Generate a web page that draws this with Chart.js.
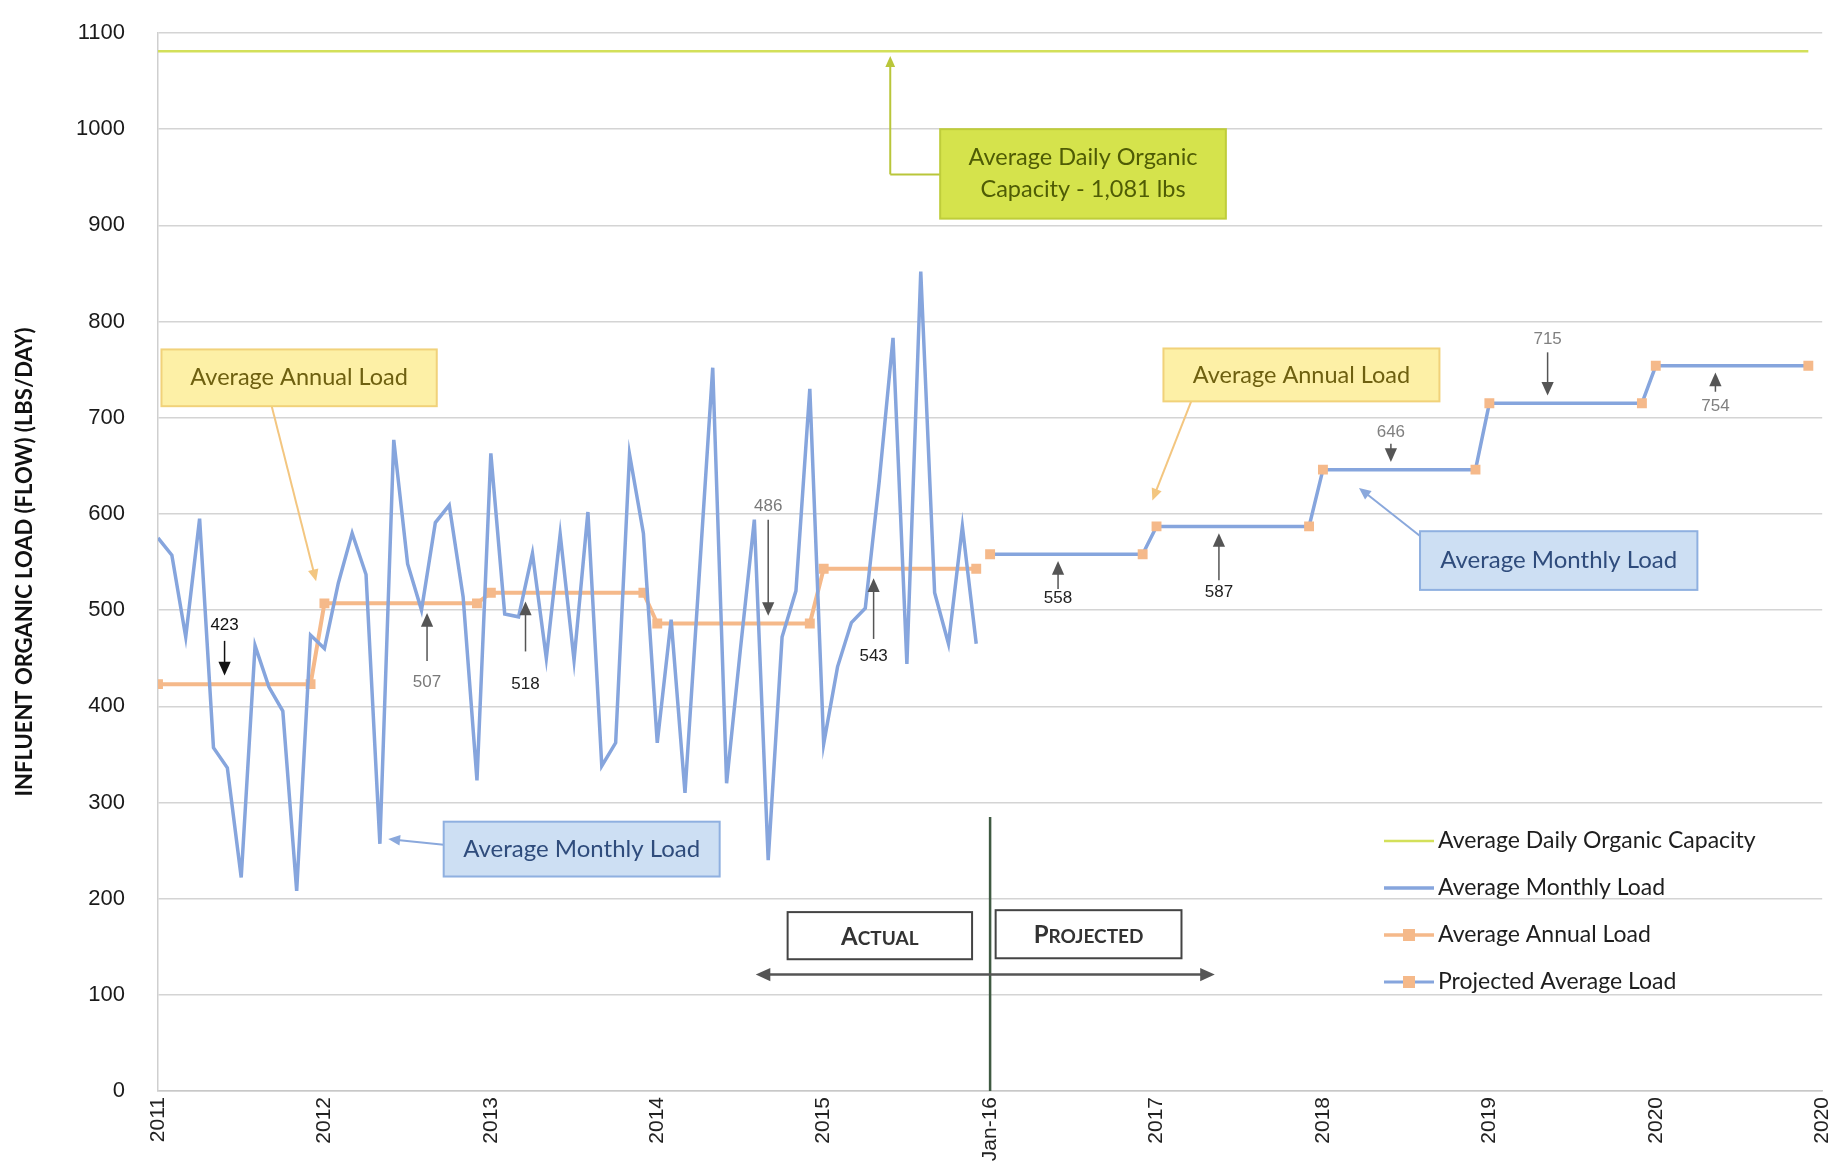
<!DOCTYPE html>
<html>
<head>
<meta charset="utf-8">
<script src="https://cdn.jsdelivr.net/npm/chart.js@4.4.0/dist/chart.umd.min.js"></script>
<style>
    html, body { margin: 0; padding: 0; background: #fff; }
</style>
</head>
<body>
<canvas id="loadChart" width="1839" height="1161"></canvas>
<script>

// x axis runs in months, Jan 2011 = 0
const yearTicks = ['2011', '2012', '2013', '2014', '2015', 'Jan-16', '2017', '2018', '2019', '2020', '2020']

// actual average monthly load, Jan 2011 .. Dec 2015
const monthlyLoad = [
    575, 557, 472, 595, 357, 336, 222, 463, 420, 395, 208, 474,
    460, 528, 580, 537, 257, 677, 548, 500, 591, 609, 514, 323,
    663, 496, 493, 559, 450, 579, 448, 602, 338, 362, 662, 580,
    362, 490, 310, 530, 752, 320, 460, 594, 240, 472, 520, 730,
    361, 441, 487, 502, 633, 783, 444, 852, 518, 465, 587, 465
]
const annualYears = [2011, 2012, 2013, 2014, 2015]
const annualLoad = [423, 507, 518, 486, 543]
const projectedYears = [2016, 2017, 2018, 2019, 2020]
const projectedLoad = [558, 587, 646, 715, 754]
const capacityMonths = [0, 119]
const capacityLoad = [1081, 1081]

const blue = '#86a5dd'
const orange = '#f5b98a'
const green = '#d3e05a'

// one point at January and one at December of each year
function yearPoints(years, values) {
    let pts = []
    years.forEach(function(yr, k) {
        let m = (yr - 2011) * 12
        pts.push({ x: m, y: values[k] })
        pts.push({ x: m + 11, y: values[k] })
    })
    return pts
}

function arrow(ctx, x1, y1, x2, y2, color, width, head) {
    const a = Math.atan2(y2 - y1, x2 - x1)
    ctx.strokeStyle = color
    ctx.fillStyle = color
    ctx.lineWidth = width
    ctx.beginPath()
    ctx.moveTo(x1, y1)
    ctx.lineTo(x2 - Math.cos(a) * head * 0.7, y2 - Math.sin(a) * head * 0.7)
    ctx.stroke()
    ctx.beginPath()
    ctx.moveTo(x2, y2)
    ctx.lineTo(x2 - head * Math.cos(a - 0.42), y2 - head * Math.sin(a - 0.42))
    ctx.lineTo(x2 - head * Math.cos(a + 0.42), y2 - head * Math.sin(a + 0.42))
    ctx.closePath()
    ctx.fill()
}

function textBox(ctx, x1, y1, x2, y2, fill, stroke, color, lines, font) {
    ctx.fillStyle = fill
    ctx.fillRect(x1, y1, x2 - x1, y2 - y1)
    ctx.strokeStyle = stroke
    ctx.lineWidth = 2
    ctx.strokeRect(x1, y1, x2 - x1, y2 - y1)
    ctx.fillStyle = color
    ctx.font = font
    ctx.textAlign = 'center'
    ctx.textBaseline = 'middle'
    const cy = (y1 + y2) / 2
    lines.forEach(function(t, k) {
        ctx.fillText(t, (x1 + x2) / 2, cy + (k - (lines.length - 1) / 2) * 32)
    })
}

function smallCaps(ctx, text, cx, cy) {
    const big = 'bold 24px Lato', small = 'bold 19px Lato'
    ctx.font = big
    const w1 = ctx.measureText(text[0]).width
    ctx.font = small
    const w2 = ctx.measureText(text.slice(1)).width
    let x = cx - (w1 + w2) / 2
    ctx.fillStyle = '#333'
    ctx.textAlign = 'left'
    ctx.textBaseline = 'alphabetic'
    ctx.font = big
    ctx.fillText(text[0], x, cy + 9)
    ctx.font = small
    ctx.fillText(text.slice(1), x + w1, cy + 9)
}

// value call-outs: month position, label height, arrow tail and tip
const callouts = [
    { x: 4.8, label: 484, tail: 468, tip: 432, color: '#111' },
    { x: 19.4, label: 425, tail: 447, tip: 497, color: '#7a7a7a' },
    { x: 26.5, label: 423, tail: 457, tip: 509, color: '#222' },
    { x: 44, label: 608, tail: 594, tip: 494, color: '#7a7a7a' },
    { x: 51.6, label: 452, tail: 470, tip: 533, color: '#222' },
    { x: 64.9, label: 512, tail: 522, tip: 551, color: '#222' },
    { x: 76.5, label: 518, tail: 531, tip: 580, color: '#222' },
    { x: 88.9, label: 685, tail: 673, tip: 654, color: '#808080' },
    { x: 100.2, label: 782, tail: 768, tip: 723, color: '#808080' },
    { x: 112.3, label: 712, tail: 727, tip: 747, color: '#808080' }
]

const notes = {
    id: 'notes',
    afterDatasetsDraw(chart) {
        const ctx = chart.ctx
        const X = v => chart.scales.x.getPixelForValue(v)
        const Y = v => chart.scales.y.getPixelForValue(v)
        ctx.save()

        // actual / projected divider
        ctx.strokeStyle = '#3f5a42'
        ctx.lineWidth = 2.5
        ctx.beginPath()
        ctx.moveTo(X(60), Y(285))
        ctx.lineTo(X(60), Y(0))
        ctx.stroke()
        arrow(ctx, X(60), Y(121), X(43.1), Y(121), '#555', 2.5, 16)
        arrow(ctx, X(60), Y(121), X(76.2), Y(121), '#555', 2.5, 16)
        textBox(ctx, X(45.4), Y(186), X(58.7), Y(137), '#fff', '#444', '#333', [], '16px Lato')
        smallCaps(ctx, 'ACTUAL', (X(45.4) + X(58.7)) / 2, (Y(186) + Y(137)) / 2)
        textBox(ctx, X(60.4), Y(188), X(73.8), Y(138), '#fff', '#444', '#333', [], '16px Lato')
        smallCaps(ctx, 'PROJECTED', (X(60.4) + X(73.8)) / 2, (Y(188) + Y(138)) / 2)

        // capacity label
        ctx.strokeStyle = '#b9c63a'
        ctx.lineWidth = 2
        ctx.beginPath()
        ctx.moveTo(X(56.4), Y(953))
        ctx.lineTo(X(52.8), Y(953))
        ctx.stroke()
        arrow(ctx, X(52.8), Y(953), X(52.8), Y(1076), '#b9c63a', 2, 12)
        textBox(ctx, X(56.4), Y(1000), X(77), Y(907), '#d5e34c', '#bfcd3a', '#4f5c05',
            ['Average Daily Organic', 'Capacity - 1,081 lbs'], '23.5px Lato')

        // annual load labels
        arrow(ctx, X(8.2), Y(712), X(11.4), Y(530), '#f3c680', 2, 13)
        textBox(ctx, X(0.25), Y(771), X(20.1), Y(712), '#fdf0a6', '#f1d27a', '#6e6010',
            ['Average Annual Load'], '23.5px Lato')
        arrow(ctx, X(74.5), Y(717), X(71.7), Y(614), '#f3c680', 2, 13)
        textBox(ctx, X(72.5), Y(772), X(92.4), Y(717), '#fdf0a6', '#f1d27a', '#6e6010',
            ['Average Annual Load'], '23.5px Lato')

        // monthly load labels
        arrow(ctx, X(20.6), Y(256), X(16.6), Y(262), '#8aa8dc', 2, 13)
        textBox(ctx, X(20.6), Y(280), X(40.5), Y(223), '#cddff3', '#8fb0e0', '#2f4c7c',
            ['Average Monthly Load'], '24px Lato')
        arrow(ctx, X(91), Y(577), X(86.6), Y(627), '#8aa8dc', 2, 13)
        textBox(ctx, X(91), Y(582), X(111), Y(521), '#cddff3', '#8fb0e0', '#2f4c7c',
            ['Average Monthly Load'], '24px Lato')

        // value call-outs
        const values = annualLoad.concat(projectedLoad)
        callouts.forEach(function(c, k) {
            arrow(ctx, X(c.x), Y(c.tail), X(c.x), Y(c.tip), c.color === '#111' ? '#111' : '#555', 1.5, 15)
            ctx.fillStyle = c.color
            ctx.font = '17px "Liberation Sans"'
            ctx.textAlign = 'center'
            ctx.textBaseline = 'middle'
            ctx.fillText(String(values[k]), X(c.x), Y(c.label))
        })

        // legend
        const rows = [
            { text: 'Average Daily Organic Capacity', line: green, mark: null, w: 2.5 },
            { text: 'Average Monthly Load', line: blue, mark: null, w: 3.5 },
            { text: 'Average Annual Load', line: orange, mark: orange, w: 3.5 },
            { text: 'Projected Average Load', line: blue, mark: orange, w: 3 }
        ]
        rows.forEach(function(r, k) {
            const y = 841 + k * 47
            ctx.strokeStyle = r.line
            ctx.lineWidth = r.w
            ctx.beginPath()
            ctx.moveTo(1384, y)
            ctx.lineTo(1434, y)
            ctx.stroke()
            if (r.mark) {
                ctx.fillStyle = r.mark
                ctx.fillRect(1403, y - 6, 12, 12)
            }
            ctx.fillStyle = '#1e1e1e'
            ctx.font = '23px Lato'
            ctx.textAlign = 'left'
            ctx.textBaseline = 'middle'
            ctx.fillText(r.text, 1438, y)
        })
        ctx.restore()
    }
}

const canvasLoadChart = document.getElementById('loadChart')
new Chart(canvasLoadChart, {
    type: 'line',
    data: {
        datasets: [{
            label: 'Average Monthly Load',
            data: monthlyLoad.map((v, i) => ({ x: i, y: v })),
            borderColor: blue,
            borderWidth: 3.5,
            pointRadius: 0,
            tension: 0,
            order: 1
        }, {
            label: 'Average Annual Load',
            data: yearPoints(annualYears, annualLoad),
            borderColor: orange,
            backgroundColor: orange,
            borderWidth: 4,
            pointStyle: 'rect',
            pointRadius: 7,
            pointBorderWidth: 0,
            order: 2
        }, {
            label: 'Projected Average Load',
            data: yearPoints(projectedYears, projectedLoad),
            borderColor: blue,
            backgroundColor: orange,
            borderWidth: 3.5,
            pointStyle: 'rect',
            pointRadius: 7,
            pointBorderWidth: 0,
            order: 0
        }, {
            label: 'Average Daily Organic Capacity',
            data: capacityMonths.map((m, k) => ({ x: m, y: capacityLoad[k] })),
            borderColor: green,
            borderWidth: 2.5,
            pointRadius: 0,
            order: 3
        }]
    },
    options: {
        responsive: false,
        animation: false,
        layout: { padding: { top: 33, right: 1, bottom: 0, left: 0 } },
        plugins: {
            legend: { display: false },
            tooltip: { enabled: false }
        },
        scales: {
            x: {
                type: 'linear',
                min: 0,
                max: 120,
                afterBuildTicks: function(axis) {
                    axis.ticks = yearTicks.map((t, k) => ({ value: k * 12 }))
                },
                afterFit: function(axis) { axis.height = 70 },
                ticks: {
                    autoSkip: false,
                    minRotation: 90,
                    maxRotation: 90,
                    padding: 0,
                    color: '#222',
                    font: { family: 'Liberation Sans', size: 21, lineHeight: 0.8 },
                    callback: function(value) { return yearTicks[Math.round(value / 12)] }
                },
                grid: { drawOnChartArea: false, drawTicks: true, tickLength: 6, tickColor: 'rgba(0,0,0,0)' },
                border: { color: '#c8c8c8', width: 1.5 }
            },
            y: {
                min: 0,
                max: 1100,
                afterFit: function(axis) { axis.width = 158 },
                ticks: {
                    stepSize: 100,
                    padding: 4,
                    color: '#1a1a1a',
                    font: { family: 'Liberation Sans', size: 22 },
                    callback: function(value) { return String(value) }
                },
                grid: { color: '#d4d4d4', lineWidth: 1.5, drawTicks: true, tickLength: 29, tickColor: 'rgba(0,0,0,0)' },
                border: { color: '#cfcfcf', width: 1.5 },
                title: {
                    display: true,
                    text: 'INFLUENT ORGANIC LOAD (FLOW) (LBS/DAY)',
                    color: '#111',
                    font: { family: 'Lato', size: 22, weight: 'bold' },
                    padding: { top: 12, bottom: 0 }
                }
            }
        }
    },
    plugins: [notes]
})
</script>
</body>
</html>
